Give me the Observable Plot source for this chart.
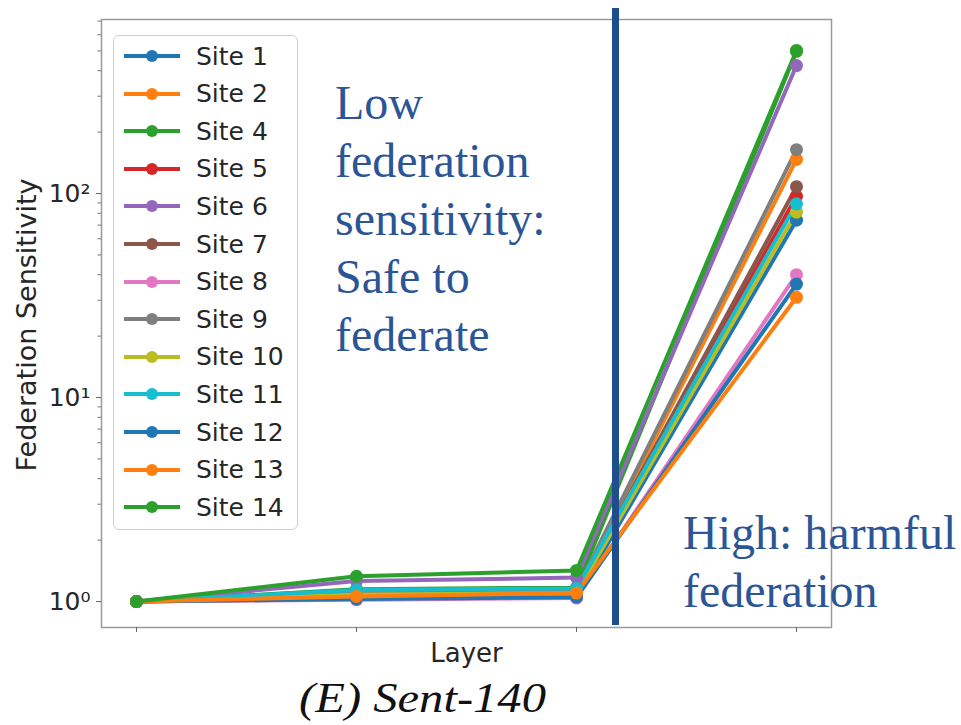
<!DOCTYPE html>
<html>
<head>
<meta charset="utf-8">
<script src="https://cdn.jsdelivr.net/npm/d3@7"></script>
<script src="https://cdn.jsdelivr.net/npm/@observablehq/plot@0.6"></script>
<style>
  html, body { margin: 0; padding: 0; background: #fff; }
  #wrap { position: relative; width: 961px; height: 725px; overflow: hidden; font-family: "DejaVu Sans", sans-serif; }
  #chart { position: absolute; left: 0; top: 0; }
  .legend { position: absolute; left: 113px; top: 35px; width: 185px; height: 495px; border: 1.5px solid #d0d0d0; border-radius: 6px; background: rgba(255,255,255,0.85); box-sizing: border-box; }
  .entry { position: absolute; left: 0; height: 30px; display: flex; align-items: center; }
  .entry span { font-size: 25px; color: #262626; margin-left: 4px; }
  .note { position: absolute; font-family: "Liberation Serif", "Times New Roman", serif; color: #2c5596; font-size: 48px; line-height: 58px; white-space: nowrap; }
  .divider { position: absolute; left: 612px; top: 8px; width: 7px; height: 617px; background: #1f4e8c; }
  .title { position: absolute; left: 0; width: 845px; top: 674px; text-align: center; font-family: "Liberation Serif", "Times New Roman", serif; font-style: italic; font-size: 43px; line-height: 48px; color: #111; transform: scaleX(1.13); transform-origin: 422.5px 0; white-space: nowrap; }
</style>
</head>
<body>
<div id="wrap">
  <div id="chart"></div>
</div>
<script>
// ---- data ----
const sites   = ["Site 1","Site 2","Site 4","Site 5","Site 6","Site 7","Site 8","Site 9","Site 10","Site 11","Site 12","Site 13","Site 14"];
const colors  = ["#1f77b4","#ff7f0e","#2ca02c","#d62728","#9467bd","#8c564b","#e377c2","#7f7f7f","#bcbd22","#17becf","#1f77b4","#ff7f0e","#2ca02c"];
const layers  = ["L1","L2","L3","L4"];
const layer1  = [1, 1, 1, 1, 1, 1, 1, 1, 1, 1, 1, 1, 1];
const layer2  = [1.03, 1.06, 1.15, 1.10, 1.26, 1.09, 1.02, 1.12, 1.08, 1.14, 1.03, 1.06, 1.33];
const layer3  = [1.05, 1.10, 1.17, 1.12, 1.31, 1.12, 1.04, 1.14, 1.10, 1.16, 1.05, 1.10, 1.42];
const layer4  = [74, 147, 498, 97, 424, 108, 40, 164, 81, 89, 36, 31, 503];
const yMajorTicks = [1, 10, 100];
const yMinorTicks = [2,3,4,5,6,7,8,9,20,30,40,50,60,70,80,90,200,300,400,500,600,700];
const lowNote  = ["Low", "federation", "sensitivity:", "Safe to", "federate"];
const highNote = ["High: harmful", "federation"];
const titleText = "(E) Sent-140";

// ---- build long table ----
const rows = [];
sites.forEach((s, i) => {
  [layer1[i], layer2[i], layer3[i], layer4[i]].forEach((v, j) => rows.push({site: s, layer: layers[j], value: v}));
});

const sup = {"0":"⁰","1":"¹","2":"²","3":"³","-":"⁻"};
const fmt = d => "10" + String(Math.round(Math.log10(d))).split("").map(c => sup[c]).join("");

const plot = Plot.plot({
  width: 961,
  height: 680,
  marginLeft: 101,
  marginRight: 130,
  marginTop: 19,
  marginBottom: 53,
  style: {fontFamily: "DejaVu Sans, sans-serif", fontSize: "25px", color: "#262626", background: "transparent"},
  x: {type: "point", domain: layers, padding: 0.154},
  y: {type: "log", domain: [0.746, 713]},
  color: {domain: sites, range: colors},
  marks: [
    Plot.frame({stroke: "#9a9a9a", strokeWidth: 1.5}),
    Plot.axisX({ticks: layers, tickSize: 5, tickFormat: () => "", stroke: "#666", label: "Layer", labelAnchor: "center", labelOffset: 34, fontSize: 26}),
    Plot.axisY({ticks: yMinorTicks, tickSize: 3.5, tickFormat: () => "", stroke: "#777", label: null}),
    Plot.axisY({ticks: yMajorTicks, tickSize: 5, tickPadding: 6, tickFormat: fmt, stroke: "#666", label: null, fontSize: 25}),
    Plot.line(rows, {x: "layer", y: "value", z: "site", stroke: "site", strokeWidth: 4, curve: "linear"}),
    Plot.dot(rows, {x: "layer", y: "value", fill: "site", r: 6.5})
  ]
});
document.getElementById("chart").appendChild(plot);

const wrap = document.getElementById("wrap");

// y-axis title
const yt = document.createElement("div");
yt.textContent = "Federation Sensitivity";
yt.style.cssText = "position:absolute;left:27px;top:325px;transform:translate(-50%,-50%) rotate(-90deg);font-size:27px;color:#262626;white-space:nowrap;line-height:30px;";
wrap.appendChild(yt);

// legend
const lg = document.createElement("div");
lg.className = "legend";
sites.forEach((s, i) => {
  const e = document.createElement("div");
  e.className = "entry";
  e.style.top = (5 + i * 37.6) + "px";
  e.innerHTML = `<svg width="70" height="30" style="margin-left:8px"><line x1="2" y1="15" x2="58" y2="15" stroke="${colors[i]}" stroke-width="4"/><circle cx="30" cy="15" r="6" fill="${colors[i]}"/></svg><span>${s}</span>`;
  lg.appendChild(e);
});
wrap.appendChild(lg);

// divider
const dv = document.createElement("div");
dv.className = "divider";
wrap.appendChild(dv);

// notes
const n1 = document.createElement("div");
n1.className = "note";
n1.style.left = "335px"; n1.style.top = "74px";
n1.innerHTML = lowNote.join("<br>");
wrap.appendChild(n1);

const n2 = document.createElement("div");
n2.className = "note";
n2.style.left = "683px"; n2.style.top = "504px";
n2.innerHTML = highNote.join("<br>");
wrap.appendChild(n2);

const tt = document.createElement("div");
tt.className = "title";
tt.textContent = titleText;
wrap.appendChild(tt);
</script>
</body>
</html>
